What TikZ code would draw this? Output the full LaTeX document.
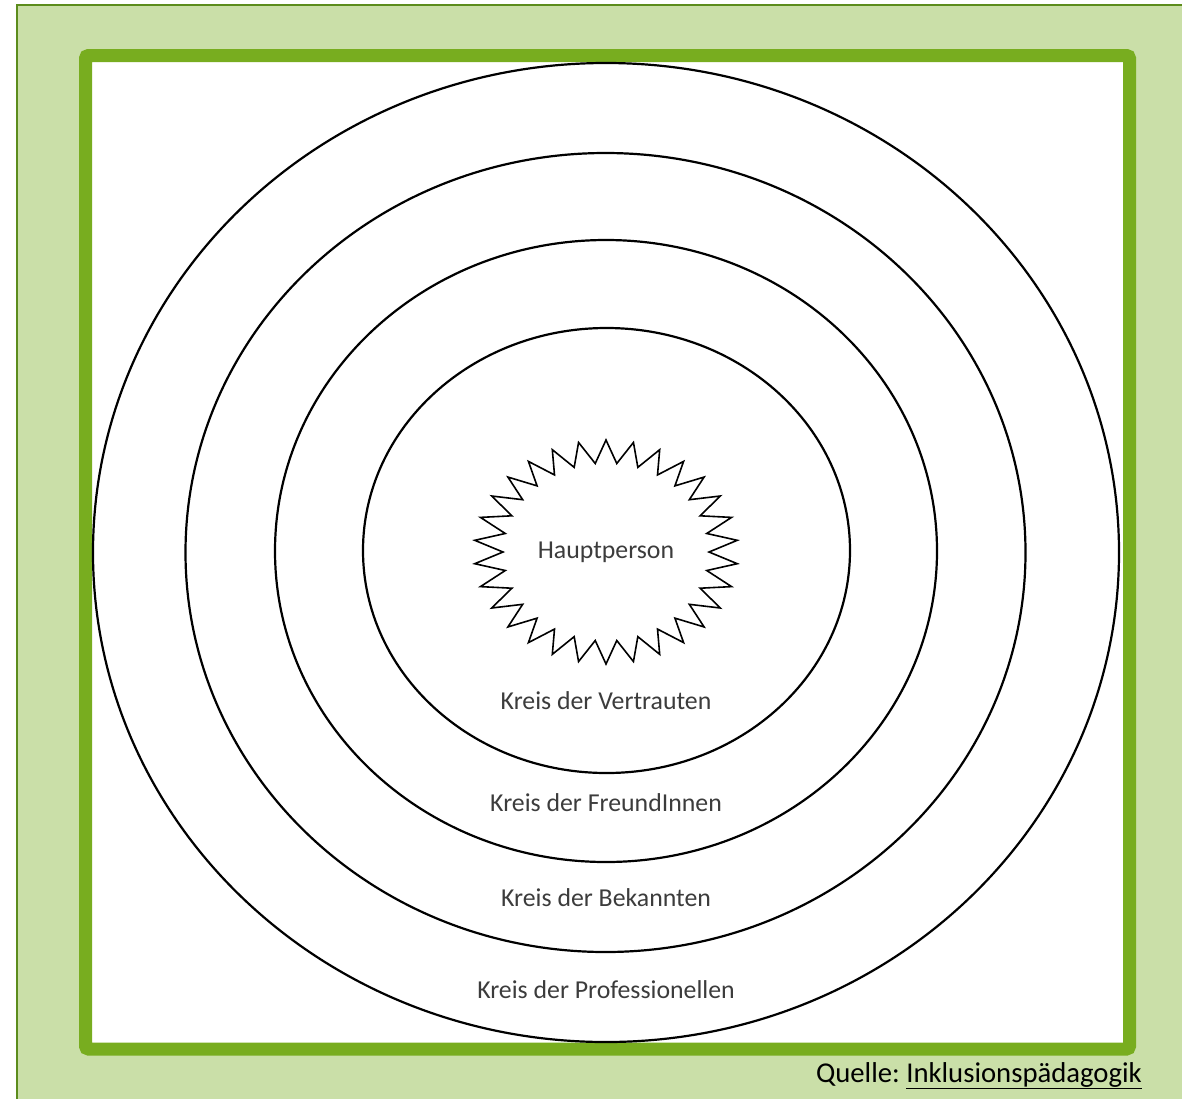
\documentclass[tikz,border=0pt]{standalone}
\usepackage{fontspec}
\setmainfont{Carlito}
\usetikzlibrary{shapes.geometric}
\definecolor{bgreen}{HTML}{CADFA8}
\definecolor{dgreen}{HTML}{5C8C1C}
\definecolor{fgreen}{HTML}{78AD1F}
\definecolor{txtgray}{HTML}{3C3C3C}
\tikzset{
  ring/.style={draw=black, line width=2.2pt, shape=ellipse, inner sep=0pt},
  lbl/.style={text=txtgray, font=\fontsize{25.8pt}{30pt}\selectfont, anchor=base, inner sep=0pt},
  burst/.style={draw=black, line width=1.6pt, line join=miter},
}
\frenchspacing
\begin{document}
\begin{tikzpicture}[x=1pt,y=-1pt]
\useasboundingbox (0,0) rectangle (1182,1098);
% light green panel
\fill[bgreen] (17,5) rectangle (1200,1120);
\draw[dgreen, line width=2.2pt] (17,1120) -- (17,5) -- (1200,5);
% frame
\draw[fgreen, fill=white, line width=13pt, rounded corners=3pt] (85.5,55.5) rectangle (1129.5,1049);
% rings
\node[ring, minimum width=1026pt, minimum height=979pt] (prof) at (606,552.5) {};
\node[ring, minimum width=840pt, minimum height=799pt] (bek) at (605.5,552.5) {};
\node[ring, minimum width=662pt, minimum height=622pt] (freund) at (606,551) {};
\node[ring, minimum width=487pt, minimum height=445pt] (vert) at (606.5,550.5) {};
% starburst
\draw[burst] (606,440)
  \foreach \k in {1,...,29} {
    -- ({606+103*cos(84+12*\k)},{552-89*sin(84+12*\k)})
    -- ({606+132*cos(90+12*\k)},{552-112*sin(90+12*\k)})
  }
  -- ({606+103*cos(84+360)},{552-89*sin(84+360)}) -- cycle;
% labels
\node[lbl] (haupt) at (606,558) {Hauptperson};
\node[lbl] (lvert) at (606,709) {Kreis der Vertrauten};
\node[lbl] (lfreund) at (606,811) {Kreis der FreundInnen};
\node[lbl] (lbek) at (606,906) {Kreis der Bekannten};
\node[lbl] (lprof) at (606,998) {Kreis der Professionellen};
\node[anchor=base east, inner sep=0pt, text=black, font=\fontsize{28.7pt}{32pt}\selectfont] (quelle) at (1142,1082) {Quelle:\ \underline{Inklusionspädagogik}};
\end{tikzpicture}
\end{document}
